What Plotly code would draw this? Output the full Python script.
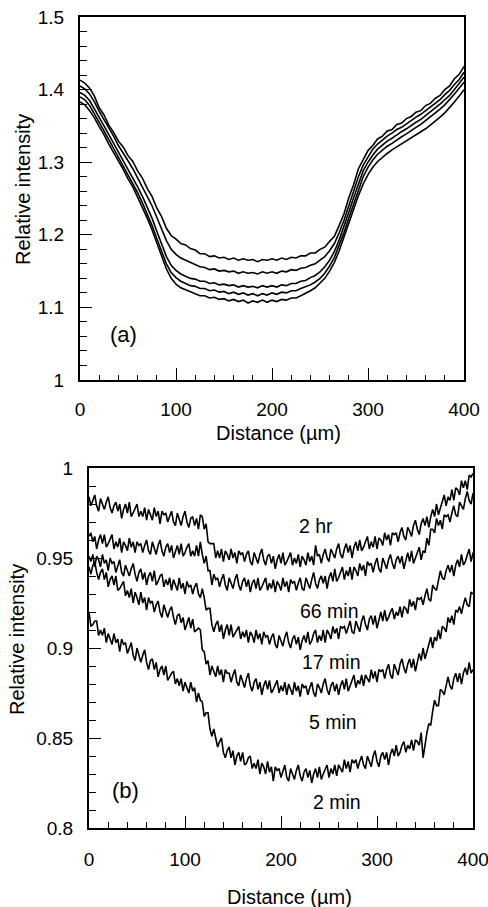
import plotly.graph_objects as go

# ---- Panel (a): intensity profiles across the channel ----
dist_a = list(range(0, 401, 5))

profile_a1 = [1.413, 1.409, 1.402, 1.391, 1.375, 1.365, 1.351, 1.341, 1.329, 1.321, 1.309, 1.301, 1.288, 1.278, 1.264, 1.253, 1.237, 1.225, 1.209, 1.199, 1.194, 1.188, 1.186, 1.181, 1.179, 1.174, 1.174, 1.170, 1.171, 1.168, 1.169, 1.166, 1.168, 1.165, 1.167, 1.165, 1.166, 1.163, 1.166, 1.165, 1.167, 1.165, 1.168, 1.166, 1.169, 1.168, 1.171, 1.171, 1.175, 1.175, 1.180, 1.183, 1.191, 1.198, 1.213, 1.229, 1.251, 1.269, 1.291, 1.303, 1.316, 1.323, 1.332, 1.336, 1.343, 1.345, 1.352, 1.354, 1.360, 1.363, 1.369, 1.371, 1.378, 1.381, 1.388, 1.392, 1.400, 1.405, 1.415, 1.421, 1.432]
profile_a2 = [1.405, 1.401, 1.394, 1.383, 1.370, 1.359, 1.346, 1.336, 1.323, 1.313, 1.302, 1.291, 1.279, 1.267, 1.253, 1.240, 1.224, 1.208, 1.192, 1.180, 1.173, 1.168, 1.165, 1.161, 1.159, 1.156, 1.155, 1.152, 1.153, 1.150, 1.151, 1.149, 1.150, 1.147, 1.149, 1.147, 1.148, 1.146, 1.149, 1.147, 1.149, 1.147, 1.150, 1.149, 1.152, 1.151, 1.154, 1.155, 1.158, 1.160, 1.165, 1.170, 1.178, 1.188, 1.203, 1.220, 1.240, 1.260, 1.280, 1.296, 1.308, 1.318, 1.325, 1.331, 1.336, 1.340, 1.345, 1.348, 1.353, 1.357, 1.362, 1.366, 1.371, 1.375, 1.381, 1.386, 1.393, 1.399, 1.407, 1.414, 1.424]
profile_a3 = [1.396, 1.392, 1.385, 1.374, 1.362, 1.350, 1.338, 1.326, 1.314, 1.303, 1.291, 1.280, 1.266, 1.253, 1.238, 1.223, 1.205, 1.187, 1.170, 1.158, 1.151, 1.146, 1.143, 1.140, 1.139, 1.136, 1.136, 1.133, 1.134, 1.131, 1.132, 1.130, 1.131, 1.128, 1.130, 1.128, 1.129, 1.127, 1.130, 1.128, 1.130, 1.128, 1.131, 1.130, 1.133, 1.133, 1.136, 1.137, 1.141, 1.144, 1.149, 1.156, 1.165, 1.177, 1.193, 1.211, 1.231, 1.251, 1.271, 1.288, 1.300, 1.310, 1.318, 1.324, 1.329, 1.333, 1.338, 1.342, 1.346, 1.351, 1.355, 1.359, 1.364, 1.369, 1.374, 1.380, 1.386, 1.392, 1.400, 1.408, 1.417]
profile_a4 = [1.390, 1.386, 1.378, 1.367, 1.355, 1.343, 1.331, 1.319, 1.306, 1.295, 1.283, 1.271, 1.258, 1.244, 1.229, 1.213, 1.195, 1.177, 1.160, 1.148, 1.141, 1.136, 1.133, 1.130, 1.129, 1.126, 1.126, 1.123, 1.124, 1.121, 1.122, 1.119, 1.121, 1.118, 1.120, 1.117, 1.119, 1.116, 1.119, 1.117, 1.120, 1.118, 1.121, 1.120, 1.123, 1.123, 1.126, 1.128, 1.131, 1.135, 1.140, 1.147, 1.157, 1.169, 1.185, 1.203, 1.223, 1.243, 1.263, 1.280, 1.293, 1.303, 1.311, 1.317, 1.322, 1.326, 1.331, 1.335, 1.339, 1.344, 1.348, 1.352, 1.357, 1.362, 1.367, 1.373, 1.379, 1.386, 1.394, 1.402, 1.410]
profile_a5 = [1.383, 1.379, 1.371, 1.361, 1.349, 1.338, 1.325, 1.314, 1.301, 1.290, 1.277, 1.266, 1.252, 1.238, 1.223, 1.207, 1.189, 1.170, 1.153, 1.140, 1.132, 1.127, 1.124, 1.121, 1.119, 1.116, 1.116, 1.113, 1.114, 1.111, 1.112, 1.109, 1.111, 1.108, 1.110, 1.106, 1.109, 1.107, 1.110, 1.107, 1.110, 1.108, 1.111, 1.110, 1.113, 1.113, 1.116, 1.119, 1.123, 1.127, 1.133, 1.140, 1.150, 1.162, 1.178, 1.196, 1.215, 1.235, 1.254, 1.270, 1.283, 1.293, 1.301, 1.307, 1.312, 1.317, 1.321, 1.325, 1.329, 1.333, 1.337, 1.341, 1.346, 1.351, 1.356, 1.362, 1.368, 1.375, 1.383, 1.391, 1.400]

# ---- Panel (b): intensity profiles at successive times (2 um sampling) ----
dist_b = list(range(0, 401, 2))
time_labels = ["2 hr", "66 min", "17 min", "5 min", "2 min"]

profile_2hr = [
    .984, .979, .982, .985, .979, .976, .983, .980, .977, .981,
    .984, .978, .975, .979, .981, .976, .980, .972, .977, .980,
    .975, .981, .973, .975, .978, .980, .973, .976, .973, .978,
    .971, .977, .974, .971, .978, .973, .976, .969, .976, .974,
    .975, .970, .973, .976, .970, .968, .975, .971, .968, .973,
    .976, .970, .967, .972, .973, .968, .972, .966, .974, .973,
    .966, .969, .959, .958, .958, .958, .950, .954, .950, .955,
    .948, .954, .952, .949, .955, .950, .953, .947, .954, .952,
    .953, .948, .952, .954, .948, .946, .953, .950, .947, .952,
    .955, .949, .946, .951, .952, .947, .951, .944, .949, .952,
    .947, .953, .946, .948, .951, .953, .946, .950, .947, .952,
    .945, .951, .949, .946, .953, .948, .951, .946, .957, .951,
    .952, .947, .952, .955, .950, .948, .955, .952, .950, .955,
    .958, .952, .950, .955, .958, .953, .957, .950, .956, .959,
    .954, .960, .954, .956, .959, .962, .955, .959, .956, .962,
    .955, .961, .960, .957, .964, .960, .963, .957, .964, .963,
    .964, .959, .964, .967, .962, .960, .967, .965, .962, .968,
    .971, .966, .963, .969, .972, .968, .973, .967, .973, .977,
    .973, .980, .974, .978, .982, .985, .979, .984, .982, .988,
    .982, .989, .988, .985, .993, .989, .993, .988, .996, .995,
    .997]
profile_66min = [
    .962, .964, .959, .962, .955, .960, .963, .958, .963, .956,
    .958, .961, .963, .955, .959, .956, .961, .953, .959, .957,
    .954, .961, .956, .959, .953, .959, .957, .958, .953, .957,
    .960, .954, .952, .959, .955, .952, .957, .960, .954, .951,
    .956, .958, .953, .957, .950, .954, .957, .952, .958, .951,
    .953, .956, .958, .951, .954, .951, .957, .951, .959, .952,
    .947, .951, .943, .943, .935, .941, .938, .939, .934, .938,
    .941, .935, .932, .939, .936, .933, .938, .941, .935, .932,
    .937, .939, .934, .938, .931, .936, .938, .933, .939, .932,
    .934, .937, .939, .932, .936, .933, .938, .931, .937, .935,
    .932, .939, .934, .937, .931, .938, .936, .937, .932, .936,
    .939, .933, .932, .939, .936, .933, .938, .942, .936, .933,
    .938, .940, .936, .940, .933, .939, .942, .937, .944, .937,
    .939, .942, .945, .938, .943, .940, .945, .938, .945, .943,
    .940, .947, .943, .946, .940, .948, .946, .947, .942, .947,
    .950, .944, .942, .950, .947, .944, .949, .952, .947, .944,
    .949, .951, .947, .951, .944, .949, .953, .948, .954, .947,
    .950, .953, .956, .949, .954, .953, .961, .957, .966, .966,
    .964, .972, .968, .971, .966, .974, .973, .974, .970, .975,
    .979, .974, .973, .981, .979, .977, .983, .987, .982, .980,
    .986]
profile_17min = [
    .951, .948, .952, .945, .951, .949, .945, .952, .947, .949,
    .943, .950, .947, .948, .942, .946, .949, .942, .940, .946,
    .943, .940, .944, .947, .941, .937, .942, .944, .938, .942,
    .935, .940, .942, .937, .943, .935, .937, .940, .941, .934,
    .938, .935, .939, .932, .938, .935, .932, .939, .933, .936,
    .930, .937, .934, .935, .930, .934, .936, .930, .928, .933,
    .928, .921, .922, .922, .913, .909, .913, .915, .909, .913,
    .905, .910, .913, .907, .913, .906, .908, .910, .912, .905,
    .909, .906, .910, .903, .909, .907, .903, .910, .905, .908,
    .902, .909, .906, .907, .902, .906, .908, .902, .900, .907,
    .904, .901, .906, .909, .903, .900, .905, .907, .902, .906,
    .899, .904, .907, .903, .909, .902, .904, .908, .910, .903,
    .907, .904, .910, .903, .910, .908, .905, .912, .908, .911,
    .905, .912, .911, .912, .908, .912, .915, .909, .908, .915,
    .912, .909, .915, .918, .913, .910, .916, .918, .913, .918,
    .911, .916, .920, .915, .921, .915, .917, .920, .922, .916,
    .920, .918, .923, .917, .923, .922, .919, .927, .923, .926,
    .921, .928, .927, .928, .924, .929, .933, .927, .926, .935,
    .933, .932, .938, .943, .939, .938, .943, .946, .942, .946,
    .940, .946, .949, .945, .952, .946, .948, .952, .955, .948,
    .953]
profile_5min = [
    .945, .941, .946, .948, .942, .938, .942, .944, .938, .942,
    .934, .938, .940, .935, .940, .932, .933, .935, .937, .929,
    .932, .928, .933, .925, .931, .928, .924, .931, .925, .928,
    .921, .928, .925, .926, .920, .924, .926, .920, .917, .924,
    .920, .917, .921, .923, .917, .913, .918, .919, .914, .917,
    .910, .914, .917, .911, .916, .909, .910, .911, .910, .899,
    .898, .891, .893, .885, .890, .887, .884, .890, .885, .888,
    .881, .888, .886, .886, .881, .885, .888, .881, .879, .885,
    .882, .878, .883, .886, .879, .876, .881, .883, .877, .881,
    .874, .879, .882, .877, .882, .875, .877, .880, .882, .875,
    .879, .876, .881, .874, .880, .877, .874, .881, .876, .879,
    .873, .880, .878, .879, .874, .878, .881, .875, .873, .880,
    .878, .875, .880, .883, .877, .874, .879, .881, .876, .880,
    .874, .879, .882, .877, .883, .876, .879, .882, .885, .878,
    .882, .880, .885, .879, .885, .883, .881, .888, .883, .887,
    .881, .888, .887, .888, .883, .888, .891, .885, .883, .891,
    .888, .885, .891, .894, .889, .886, .891, .894, .889, .894,
    .887, .893, .897, .893, .900, .894, .898, .902, .906, .900,
    .906, .904, .910, .905, .912, .911, .909, .917, .914, .918,
    .913, .921, .920, .923, .919, .924, .928, .924, .923, .931,
    .930]
profile_2min = [
    .920, .912, .913, .915, .915, .907, .910, .907, .911, .903,
    .908, .905, .902, .908, .903, .905, .898, .905, .902, .903,
    .897, .900, .903, .896, .893, .900, .896, .892, .896, .899,
    .892, .888, .893, .894, .888, .892, .884, .888, .890, .885,
    .890, .882, .884, .886, .887, .880, .883, .879, .883, .876,
    .881, .878, .875, .881, .876, .878, .870, .875, .871, .870,
    .862, .864, .864, .855, .851, .855, .850, .845, .848, .850,
    .842, .839, .843, .845, .839, .843, .835, .840, .842, .837,
    .842, .835, .836, .839, .840, .833, .836, .833, .838, .830,
    .836, .834, .830, .837, .831, .834, .826, .834, .832, .833,
    .828, .832, .835, .828, .826, .833, .830, .827, .832, .835,
    .829, .826, .831, .833, .828, .832, .825, .830, .833, .828,
    .834, .827, .830, .833, .835, .828, .833, .830, .835, .829,
    .835, .833, .831, .838, .833, .837, .831, .838, .836, .838,
    .833, .837, .840, .835, .833, .840, .837, .834, .840, .843,
    .837, .834, .840, .842, .838, .842, .835, .841, .844, .840,
    .846, .840, .842, .846, .848, .842, .846, .844, .849, .843,
    .849, .848, .846, .853, .839, .847, .853, .858, .857, .865,
    .871, .868, .868, .877, .876, .874, .880, .884, .879, .877,
    .883, .886, .881, .886, .880, .886, .889, .885, .892, .886,
    .888]

# label anchor positions in data units (x, y)
label_x = [236, 251, 253, 254, 258]
label_y = [0.968, 0.9206, 0.8925, 0.859, 0.8145]

W, H = 488, 907
FONT = "Liberation Sans, Arial, sans-serif"

fig = go.Figure()

for prof in [profile_a1, profile_a2, profile_a3, profile_a4, profile_a5]:
    fig.add_trace(go.Scatter(x=dist_a, y=prof, mode="lines",
                             line=dict(color="black", width=1.6),
                             xaxis="x", yaxis="y", showlegend=False))

for prof in [profile_2hr, profile_66min, profile_17min, profile_5min, profile_2min]:
    fig.add_trace(go.Scatter(x=dist_b, y=prof, mode="lines",
                             line=dict(color="black", width=1.6),
                             xaxis="x2", yaxis="y2", showlegend=False))


def px_x(p):
    return p / W


def px_y(p):
    return 1 - p / H


axis_common = dict(
    showline=True, linecolor="black", linewidth=2, mirror=True,
    ticks="inside", tickcolor="black", tickwidth=1.3, ticklen=12,
    showgrid=False, zeroline=False, automargin=False,
    ticklabeloverflow="allow",
    tickfont=dict(family=FONT, size=19, color="black"),
)

fig.update_layout(
    width=W, height=H,
    margin=dict(l=0, r=0, t=0, b=0),
    paper_bgcolor="white", plot_bgcolor="white",
    xaxis=dict(axis_common, domain=[px_x(80), px_x(464)], range=[0, 400],
               tickvals=[0, 100, 200, 300, 400], anchor="y",
               minor=dict(ticks="inside", dtick=20, ticklen=5, tickwidth=1, tickcolor="black"),
               ticklabelstandoff=11),
    yaxis=dict(axis_common, domain=[px_y(380), px_y(17)], range=[1.0, 1.5],
               tickvals=[1.0, 1.1, 1.2, 1.3, 1.4, 1.5], ticktext=["1", "1.1", "1.2", "1.3", "1.4", "1.5"],
               anchor="x",
               minor=dict(ticks="inside", dtick=0.02, ticklen=7, tickwidth=1, tickcolor="black"),
               ticklabelstandoff=10),
    xaxis2=dict(axis_common, domain=[px_x(89), px_x(473)], range=[0, 400],
                tickvals=[0, 100, 200, 300, 400], anchor="y2",
                minor=dict(ticks="inside", dtick=20, ticklen=6, tickwidth=1, tickcolor="black"),
                ticklabelstandoff=13),
    yaxis2=dict(axis_common, domain=[px_y(828), px_y(468)], range=[0.8, 1.0],
                tickvals=[0.8, 0.85, 0.9, 0.95, 1.0], ticktext=["0.8", "0.85", "0.9", "0.95", "1"],
                anchor="x2",
                minor=dict(ticks="inside", dtick=0.01, ticklen=7, tickwidth=1, tickcolor="black"),
                ticklabelstandoff=10),
)

annots = []
title_font = dict(family=FONT, size=20, color="black")
centered = dict(showarrow=False, xanchor="center", yanchor="middle")
annots.append(dict(centered, text="Distance (µm)", xref="paper", yref="paper",
                   x=px_x(278), y=px_y(433), font=title_font))
annots.append(dict(centered, text="Distance (µm)", xref="paper", yref="paper",
                   x=px_x(289), y=px_y(897), font=title_font))
annots.append(dict(centered, text="Relative intensity", xref="paper", yref="paper",
                   x=px_x(23), y=px_y(190), textangle=-90, font=title_font))
annots.append(dict(centered, text="Relative intensity", xref="paper", yref="paper",
                   x=px_x(17), y=px_y(640), textangle=-90, font=title_font))
annots.append(dict(centered, text="(a)", xref="x", yref="y", x=45.8, y=1.062,
                   font=dict(family=FONT, size=22, color="black")))
annots.append(dict(centered, text="(b)", xref="x2", yref="y2", x=37.5, y=0.821,
                   font=dict(family=FONT, size=22, color="black")))
for lab, lx, ly in zip(time_labels, label_x, label_y):
    annots.append(dict(centered, text=lab, xref="x2", yref="y2", x=lx, y=ly,
                       font=dict(family=FONT, size=19.5, color="black")))
fig.update_layout(annotations=annots)

fig.write_html("out.html")
